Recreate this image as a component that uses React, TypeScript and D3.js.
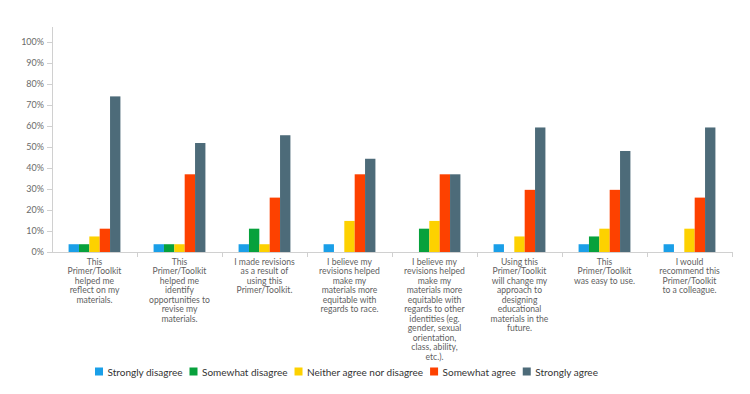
import React, { useEffect, useRef } from 'react'
import * as d3 from 'd3'

// Data
const categories = [
  'This|Primer/Toolkit|helped me|reflect on my|materials.',
  'This|Primer/Toolkit|helped me|identify|opportunities to|revise my|materials.',
  'I made revisions|as a result of|using this|Primer/Toolkit.',
  'I believe my|revisions helped|make my|materials more|equitable with|regards to race.',
  'I believe my|revisions helped|make my|materials more|equitable with|regards to other|identities (eg.|gender, sexual|orientation,|class, ability,|etc.).',
  'Using this|Primer/Toolkit|will change my|approach to|designing|educational|materials in the|future.',
  'This|Primer/Toolkit|was easy to use.',
  'I would|recommend this|Primer/Toolkit|to a colleague.',
]
const seriesNames = ['Strongly disagree', 'Somewhat disagree', 'Neither agree nor disagree', 'Somewhat agree', 'Strongly agree']
const seriesColors = ['#1a9fe8', '#07a13c', '#fdd100', '#fd4100', '#4d6b79']
const stronglyDisagree = [3.7, 3.7, 3.7, 3.7, 0, 3.7, 3.7, 3.7]
const somewhatDisagree = [3.7, 3.7, 11.1, 0, 11.1, 0, 7.4, 0]
const neither = [7.4, 3.7, 3.7, 14.8, 14.8, 7.4, 11.1, 11.1]
const somewhatAgree = [11.1, 37.0, 25.9, 37.0, 37.0, 29.6, 29.6, 25.9]
const stronglyAgree = [74.1, 51.9, 55.6, 44.4, 37.0, 59.3, 48.1, 59.3]
const seriesValues = [stronglyDisagree, somewhatDisagree, neither, somewhatAgree, stronglyAgree]
const yTicks = [0, 10, 20, 30, 40, 50, 60, 70, 80, 90, 100]

const W = 750
const H = 394
const FONT = 'Lato, sans-serif'

const App = () => {
  const svgRef = useRef(null)
  useEffect(() => {
    const svg = d3.select(svgRef.current)
    svg.selectAll('*').remove()

    const left = 52, right = 732, top = 42, bottom = 252

    const x0 = d3.scaleBand().domain(categories).range([left, right]).paddingInner(0).paddingOuter(0)
    const x1 = d3.scaleBand().domain(seriesNames).range([0, x0.bandwidth()]).paddingInner(0).paddingOuter(1.6)
    const y = d3.scaleLinear().domain([0, 100]).range([bottom, top])

    // Y axis
    const yAxis = svg.append('g').attr('transform', `translate(${left},0)`)
      .call(d3.axisLeft(y).tickValues(yTicks).tickSize(5).tickPadding(3).tickFormat(d => d + '%'))
    yAxis.select('.domain').remove()
    yAxis.append('line').attr('x1', 0.5).attr('x2', 0.5).attr('y1', 27).attr('y2', bottom).attr('stroke', '#d0d0d0')
    yAxis.selectAll('.tick line').attr('stroke', '#d0d0d0')
    yAxis.selectAll('.tick text').attr('fill', '#6a6a6a').style('font-family', FONT).style('font-size', '9px')

    // Bars
    seriesNames.forEach((name, si) => {
      svg.append('g').selectAll('rect')
        .data(seriesValues[si].map((v, ci) => ({ v, c: categories[ci] })))
        .join('rect')
        .attr('x', d => x0(d.c) + x1(name))
        .attr('width', x1.bandwidth())
        .attr('y', d => y(d.v))
        .attr('height', d => bottom - y(d.v))
        .attr('fill', seriesColors[si])
    })

    // X axis
    svg.append('line').attr('x1', left).attr('x2', right).attr('y1', bottom + 0.5).attr('y2', bottom + 0.5).attr('stroke', '#d0d0d0')
    categories.forEach((c, i) => {
      const bx = Math.round(x0(c) + x0.bandwidth()) + 0.5
      svg.append('line').attr('x1', bx).attr('x2', bx).attr('y1', bottom).attr('y2', bottom + 5).attr('stroke', '#d0d0d0')
      const t = svg.append('text')
        .attr('text-anchor', 'middle')
        .attr('fill', '#5f5f5f')
        .style('font-family', FONT).style('font-size', '8.6px')
      c.split('|').forEach((line, li) => {
        t.append('tspan').attr('x', x0(c) + x0.bandwidth() / 2).attr('y', bottom + 13 + li * 9.45).text(line)
      })
    })

    // Legend
    const legend = svg.append('g').attr('transform', 'translate(95,372)')
    let lx = 0
    seriesNames.forEach((name, i) => {
      legend.append('rect').attr('x', lx).attr('y', -4.5).attr('width', 8).attr('height', 8).attr('fill', seriesColors[i])
      const t = legend.append('text').attr('x', lx + 12.5).attr('y', 3.5)
        .attr('fill', '#333').style('font-family', FONT).style('font-size', '10px').text(name)
      lx += 12.5 + t.node().getComputedTextLength() + 7
    })
  }, [])

  return (
    <svg ref={svgRef} width={W} height={H} style={{ position: 'absolute', left: 0, top: 0, background: '#fff' }} />
  )
}

export default App
